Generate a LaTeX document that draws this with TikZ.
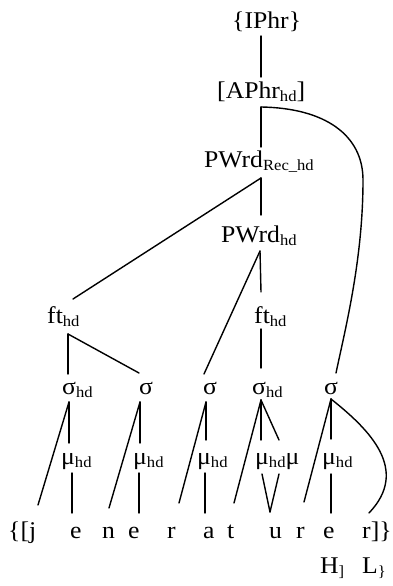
\documentclass[tikz,border=0pt]{standalone}
\usepackage{fontspec}
\setmainfont{Liberation Serif}[FakeStretch=1.07]
\newcommand\lowsub[1]{\raisebox{-3pt}{\fontsize{15.5}{15.5}\selectfont #1}}
\begin{document}
\begin{tikzpicture}[x=1pt,y=-1pt,
  lbl/.style={anchor=base west, inner sep=0pt, font=\fontsize{24}{27}\selectfont},
  branch/.style={line width=1.4pt, line cap=round}]
\useasboundingbox (0,0) rectangle (393,586);

% ---- prosodic categories ----
\node[lbl] (iphr)  at (232,29)  {\{IPhr\}};
\node[lbl] (aphr)  at (217,98)  {[APhr\lowsub{hd}]};
\node[lbl] (pwrec) at (204,167) {PWrd\lowsub{Rec\_hd}};
\node[lbl] (pwhd)  at (221,242) {PWrd\lowsub{hd}};
\node[lbl] (ftL)   at (47,323)  {ft\lowsub{hd}};
\node[lbl] (ftR)   at (254,323) {ft\lowsub{hd}};

% ---- syllables ----
\node[lbl] (s1) at (62,394)  {σ\lowsub{hd}};
\node[lbl] (s2) at (139,394) {σ};
\node[lbl] (s3) at (203,394) {σ};
\node[lbl] (s4) at (252,394) {σ\lowsub{hd}};
\node[lbl] (s5) at (324,394) {σ};

% ---- moras ----
\node[lbl] (m1) at (61,464)  {μ\lowsub{hd}};
\node[lbl] (m2) at (133,464) {μ\lowsub{hd}};
\node[lbl] (m3) at (197,464) {μ\lowsub{hd}};
\node[lbl] (m4) at (255,464) {μ\lowsub{hd}μ};
\node[lbl] (m5) at (322,464) {μ\lowsub{hd}};

% ---- segments ----
\node[lbl] (g1)  at (8,538)   {\{[j};
\node[lbl] (g2)  at (70,538)  {e};
\node[lbl] (g3)  at (102,538) {n};
\node[lbl] (g4)  at (128,538) {e};
\node[lbl] (g5)  at (167,538) {r};
\node[lbl] (g6)  at (203,538) {a};
\node[lbl] (g7)  at (227,538) {t};
\node[lbl] (g8)  at (269,538) {u};
\node[lbl] (g9)  at (296,538) {r};
\node[lbl] (g10) at (323,538) {e};
\node[lbl] (g11) at (362,538) {r]\}};

% ---- tones ----
\node[lbl] (tH) at (320,573) {H\lowsub{]}};
\node[lbl] (tL) at (362,573) {L\lowsub{\}}};

% ---- attachment points ----
\coordinate (iphr-b)  at (261,36);
\coordinate (aphr-t)  at (261,77);
\coordinate (aphr-b)  at (261,107);
\coordinate (pwrec-t) at (261,147);
\coordinate (pwrec-b) at (261,178);
\coordinate (pwhd-t)  at (261,215);
\coordinate (pwhd-b)  at (260,251);
\coordinate (ftL-t)   at (73,299);
\coordinate (ftL-b)   at (68,334);
\coordinate (ftR-t)   at (261,292);
\coordinate (ftR-b)   at (261,329);
\coordinate (s1-t) at (68,374);
\coordinate (s2-t) at (139,373);
\coordinate (s3-t) at (204,374);
\coordinate (s4-t) at (261,368);
\coordinate (s5-t) at (336,373);
\coordinate (s1-b) at (69,402);
\coordinate (s2-b) at (140,402);
\coordinate (s3-b) at (206,402);
\coordinate (s4-b) at (261,400);
\coordinate (s5-b) at (331,399);
\coordinate (m1-t) at (69,443);
\coordinate (m2-t) at (140,443);
\coordinate (m3-t) at (206,440);
\coordinate (m4-t) at (261,440);
\coordinate (m4-t2) at (279,440);
\coordinate (m5-t) at (331,439);
\coordinate (m1-b) at (72,473);
\coordinate (m2-b) at (139,473);
\coordinate (m3-b) at (205,473);
\coordinate (m4-b) at (262,474);
\coordinate (m4-b2) at (279,474);
\coordinate (m5-b) at (331,474);
\coordinate (g1-t)  at (38,505);
\coordinate (g2-t)  at (72,513);
\coordinate (g3-t)  at (109,508);
\coordinate (g4-t)  at (139,513);
\coordinate (g5-t)  at (179,503);
\coordinate (g6-t)  at (205,513);
\coordinate (g7-t)  at (234,503);
\coordinate (g8-t)  at (270,512);
\coordinate (g9-t)  at (304,502);
\coordinate (g10-t) at (331,513);
\coordinate (g11-t) at (369,513);

% ---- branches ----
\draw[branch] (iphr-b) -- (aphr-t);
\draw[branch] (aphr-b) -- (pwrec-t);
\draw[branch] (aphr-b) .. controls (325,108) and (363,135) .. (363,180)
                       .. controls (363,260) and (345,330) .. (s5-t);
\draw[branch] (pwrec-b) -- (pwhd-t);
\draw[branch] (pwrec-b) -- (ftL-t);
\draw[branch] (pwhd-b) -- (ftR-t);
\draw[branch] (pwhd-b) -- (s3-t);
\draw[branch] (ftL-b) -- (s1-t);
\draw[branch] (ftL-b) -- (s2-t);
\draw[branch] (ftR-b) -- (s4-t);

\draw[branch] (s1-b) -- (m1-t);
\draw[branch] (s1-b) -- (g1-t);
\draw[branch] (s2-b) -- (m2-t);
\draw[branch] (s2-b) -- (g3-t);
\draw[branch] (s3-b) -- (m3-t);
\draw[branch] (s3-b) -- (g5-t);
\draw[branch] (s4-b) -- (m4-t);
\draw[branch] (s4-b) -- (m4-t2);
\draw[branch] (s4-b) -- (g7-t);
\draw[branch] (s5-b) -- (m5-t);
\draw[branch] (s5-b) -- (g9-t);
\draw[branch] (s5-b) .. controls (370,430) and (410,470) .. (g11-t);

\draw[branch] (m1-b) -- (g2-t);
\draw[branch] (m2-b) -- (g4-t);
\draw[branch] (m3-b) -- (g6-t);
\draw[branch] (m4-b) -- (g8-t);
\draw[branch] (m4-b2) -- (g8-t);
\draw[branch] (m5-b) -- (g10-t);
\end{tikzpicture}
\end{document}
